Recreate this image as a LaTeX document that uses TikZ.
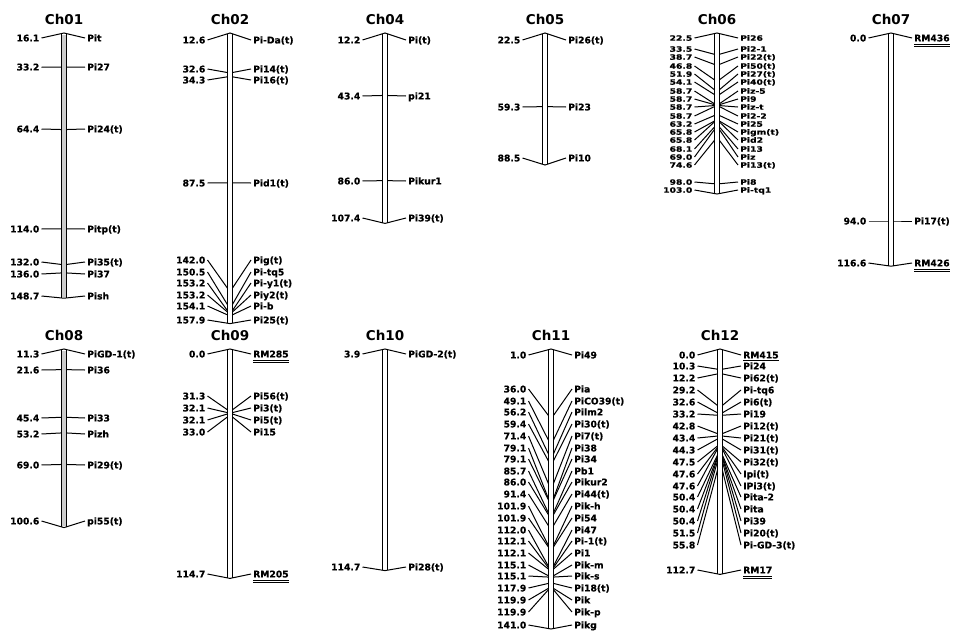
\documentclass[tikz,border=0pt]{standalone}
\usepackage{fontspec}
\usepackage{graphicx}
\setmainfont{DejaVu Sans}
\newfontfamily\lblf{DejaVu Sans Bold}[FakeBold=0.6]
\newsavebox\ulbox
\newcommand\dul[1]{\sbox\ulbox{#1}\usebox\ulbox\llap{\raisebox{-3.4pt}[0pt][0pt]{\rule{\wd\ulbox}{0.6pt}}}\llap{\raisebox{-5.2pt}[0pt][0pt]{\rule{\wd\ulbox}{0.6pt}}}}
\newcommand\sul[1]{\sbox\ulbox{#1}\usebox\ulbox\llap{\raisebox{-2.6pt}[0pt][0pt]{\rule{\wd\ulbox}{0.7pt}}}}
\tikzset{
 mkline/.style={line width=1pt},
 barline/.style={line width=1pt},
 lbl/.style={inner sep=0pt, font=\lblf\fontsize{9.2}{10}\selectfont},
 ttl/.style={inner sep=0pt, font=\bfseries\fontsize{13.5}{14}\selectfont, anchor=base},
}
\newcommand\lsc{1}
\newcommand\chrom[8]{%
 \def\chx{#3}\def\cht{#4}\def\chf{#5}%
 \pgfmathsetmacro\chb{#4+2*(#6-#5)}%
 \node[ttl] (T#1) at (#3,#4-9) {#2};
 \foreach \c/\ly/\rt [count=\i] in {#8} {
   \pgfmathsetmacro\mky{\cht+2*(\c-\chf)}
   \pgfmathsetmacro\lby{\ly+3.4*\lsc}
   \coordinate (a#1-\i) at (\chx-22.5,\ly);
   \coordinate (m#1-\i) at (\chx,\mky);
   \coordinate (b#1-\i) at (\chx+21,\ly);
   \node[lbl,anchor=base east] (L#1-\i) at (\chx-24.5,\lby) {\scalebox{1}[\lsc]{\c}};
   \node[lbl,anchor=base west] (R#1-\i) at (\chx+23,\lby) {\scalebox{1}[\lsc]{\rt}};
   \draw[mkline] (a#1-\i) -- (m#1-\i) -- (b#1-\i);
 }
 \fill[#7] (\chx-2.3,\cht+1.5) rectangle (\chx+2.3,\chb-1.5);
 \draw[barline] (\chx-2.3,\cht+0.6) -- (\chx-2.3,\chb-0.6);
 \draw[barline] (\chx+2.3,\cht+0.6) -- (\chx+2.3,\chb-0.6);
}
\begin{document}
\begin{tikzpicture}[x=1pt,y=-1pt]
\useasboundingbox[fill=white] (0,0) rectangle (956,632);
\chrom{c1}{Ch01}{64}{33}{16.1}{148.7}{gray!40}{16.1/38/Pit, 33.2/67/Pi27, 64.4/129/Pi24(t), 114.0/229/Pitp(t), 132.0/262/Pi35(t), 136.0/274/Pi37, 148.7/296/Pish}
\chrom{c2}{Ch02}{230}{33}{12.6}{157.9}{white}{12.6/40/Pi-Da(t), 32.6/69/Pi14(t), 34.3/80/Pi16(t), 87.5/183/Pid1(t), 142.0/260/Pig(t), 150.5/272/Pi-tq5, 153.2/283/Pi-y1(t), 153.2/295/Piy2(t), 154.1/306/Pi-b, 157.9/320/Pi25(t)}
\chrom{c4}{Ch04}{385}{33}{12.2}{107.4}{white}{12.2/40/Pi(t), 43.4/96/pi21, 86.0/181/Pikur1, 107.4/218/Pi39(t)}
\chrom{c5}{Ch05}{545}{33}{22.5}{88.5}{white}{22.5/40/Pi26(t), 59.3/107/Pi23, 88.5/158/Pi10}
\renewcommand\lsc{0.8}
\chrom{c6}{Ch06}{717}{33}{22.5}{103.0}{white}{22.5/38/Pi26, 33.5/49/Pi2-1, 38.7/57/Pi22(t), 46.8/66/Pi50(t), 51.9/74/Pi27(t), 54.1/82/Pi40(t), 58.7/91/Piz-5, 58.7/99/Pi9, 58.7/107/Piz-t, 58.7/116/Pi2-2, 63.2/124/Pi25, 65.8/132/Pigm(t), 65.8/140/Pid2, 68.1/149/Pi13, 69.0/157/Piz, 74.6/165/Pi13(t), 98.0/182/Pi8, 103.0/190/Pi-tq1}
\renewcommand\lsc{1}
\chrom{c7}{Ch07}{891}{33}{0.0}{116.6}{white}{0.0/38/\dul{RM436}, 94.0/221/Pi17(t), 116.6/263/\dul{RM426}}
\chrom{c8}{Ch08}{64}{349}{11.3}{100.6}{gray!40}{11.3/354/PiGD-1(t), 21.6/370/Pi36, 45.4/418/Pi33, 53.2/434/Pizh, 69.0/465/Pi29(t), 100.6/521/pi55(t)}
\chrom{c9}{Ch09}{230}{349}{0.0}{114.7}{white}{0.0/354/\dul{RM285}, 31.3/396/Pi56(t), 32.1/408/Pi3(t), 32.1/420/Pi5(t), 33.0/432/Pi15, 114.7/574/\dul{RM205}}
\chrom{c10}{Ch10}{385}{349}{3.9}{114.7}{white}{3.9/354/PiGD-2(t), 114.7/567/Pi28(t)}
\chrom{c11}{Ch11}{551}{349}{1.0}{141.0}{white}{1.0/355/Pi49, 36.0/389/Pia, 49.1/401/PiCO39(t), 56.2/412/Pilm2, 59.4/424/Pi30(t), 71.4/436/Pi7(t), 79.1/448/Pi38, 79.1/459/Pi34, 85.7/471/Pb1, 86.0/482/Pikur2, 91.4/494/Pi44(t), 101.9/506/Pik-h, 101.9/518/Pi54, 112.0/530/Pi47, 112.1/541/Pi-1(t), 112.1/553/Pi1, 115.1/565/Pik-m, 115.1/576/Pik-s, 117.9/588/Pi18(t), 119.9/600/Pik, 119.9/612/Pik-p, 141.0/625/Pikg}
\chrom{c12}{Ch12}{720}{349}{0.0}{112.7}{white}{0.0/355/\sul{RM415}, 10.3/366/Pi24, 12.2/378/Pi62(t), 29.2/390/Pi-tq6, 32.6/402/Pi6(t), 33.2/414/Pi19, 42.8/426/Pi12(t), 43.4/438/Pi21(t), 44.3/450/Pi31(t), 47.5/462/Pi32(t), 47.6/474/Ipi(t), 47.6/486/IPi3(t), 50.4/497/Pita-2, 50.4/509/Pita, 50.4/521/Pi39, 51.5/533/Pi20(t), 55.8/545/Pi-GD-3(t), 112.7/570/\dul{RM17}}
\end{tikzpicture}
\end{document}
